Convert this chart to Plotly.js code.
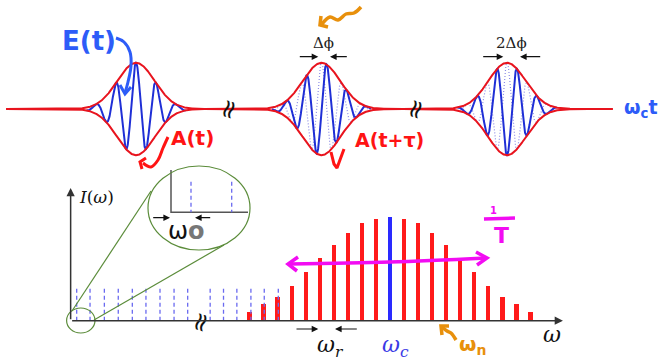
<!DOCTYPE html>
<html><head><meta charset="utf-8">
<script src="https://cdn.plot.ly/plotly-3.0.1.min.js"></script>
<style>html,body{margin:0;padding:0;background:#fff}#chart{width:660px;height:361px}</style>
</head><body><div id="chart"></div>
<script>
// ================= DATA =================
// Time domain: pulse train (display units: pulse period T = 1)
const pulseNumbers   = [0, 1, 2];
const pulsePhaseSlip = [0, 0.5, 1.0];   // carrier-envelope phase in units of pi: 0, Δφ, 2Δφ
const envelopeSigma  = 0.101;           // Gaussian envelope width (display units of T)
const carrierPeriod  = 0.108;           // display carrier period (units of T)
const timeSpan       = [-0.70, 2.57];

// Frequency domain: comb modes (index relative to ω_c) and intensities
const combModes     = [-10,-9,-8,-7,-6,-5,-4,-3,-2,-1,0,1,2,3,4,5,6,7,8,9,10];
const combIntensity = [0.087,0.159,0.226,0.338,0.474,0.603,0.732,0.851,0.948,0.981,1.0,
                       0.981,0.948,0.851,0.732,0.603,0.474,0.338,0.226,0.159,0.087];
// offset comb (dashed reference lines, display positions across the axis break)
const offsetModes = [-22.3,-21.35,-20.33,-19.34,-18.34,-17.37,-16.37,-15.37,-14.4,
                     -12.8,-11.85,-10.9,-9.9,-8.95,-7.95];
const offsetLevel = 0.313;
const axisStartMode = -22.73, axisEndMode = 12.31, axisTopI = 1.283;

// ================= GEOMETRY (layout mapping) =================
const W = 660, H = 361;
const t0px = 136, tUnitPx = 185.5, ampBasePx = 109, ampUnitPx = 46.2;
const n0px = 390, nUnitPx = 14.05, iBasePx = 320.7, iUnitPx = 103.4;
const yTopRange = [-1.35, 1.35];
const yTopDom = [1 - (ampBasePx - yTopRange[0]*ampUnitPx)/H, 1 - (ampBasePx - yTopRange[1]*ampUnitPx)/H];
const y2Dom = [0, 0.6];
const y2Range = [-(H - iBasePx)/iUnitPx, (iBasePx - H*(1 - y2Dom[1]))/iUnitPx];

// ================= TRACES =================
const traces = [];
const sig2 = 2*envelopeSigma*envelopeSigma;
function env(t, k){ return Math.exp(-(t-k)*(t-k)/sig2); }

// dotted reference carriers (unshifted) and blue shifted carriers
pulseNumbers.forEach((k, idx) => {
  const ph = pulsePhaseSlip[idx]*Math.PI;
  const tx = [], ty = [], rx = [], ry = [];
  for (let i = 0; i <= 800; i++) {
    const t = k - 0.4 + 0.8*i/800;
    const e = env(t, k);
    if (e < 0.03) continue;
    tx.push(t); ty.push(e*Math.cos(2*Math.PI*(t-k)/carrierPeriod - ph));
    rx.push(t); ry.push(e*Math.cos(2*Math.PI*(t-k)/carrierPeriod));
  }
  if (ph !== 0) traces.push({x: rx, y: ry, mode:'lines', line:{color:'#8c8ce6', width:1.2, dash:'1px,2px'},
    hoverinfo:'skip', showlegend:false});
  traces.push({x: tx, y: ty, mode:'lines', line:{color:'#1f2fd6', width:2}, hoverinfo:'skip', showlegend:false});
});

// envelope A(t)
{
  const ex = [], up = [], dn = [];
  const N = 3000;
  for (let i = 0; i <= N; i++) {
    const t = timeSpan[0] + (timeSpan[1]-timeSpan[0])*i/N;
    let e = 0; pulseNumbers.forEach(k => e += env(t, k));
    ex.push(t); up.push(e); dn.push(-e);
  }
  traces.push({x: ex, y: up, mode:'lines', line:{color:'#e8141e', width:2}, hoverinfo:'skip', showlegend:false});
  traces.push({x: ex, y: dn, mode:'lines', line:{color:'#e8141e', width:2}, hoverinfo:'skip', showlegend:false});
}

// dashed offset comb lines
{
  const dx = [], dy = [];
  offsetModes.forEach(n => { dx.push(n, n, null); dy.push(0, offsetLevel, null); });
  traces.push({x: dx, y: dy, xaxis:'x2', yaxis:'y2', mode:'lines',
    line:{color:'#6a6af0', width:1.3, dash:'4px,3px'}, hoverinfo:'skip', showlegend:false});
}
// comb bars
traces.push({type:'bar', x: combModes, y: combIntensity, xaxis:'x2', yaxis:'y2', width:0.3,
  marker:{color: combModes.map(n => n === 0 ? '#2a2aff' : '#ff1a1a'), line:{width:0}},
  hoverinfo:'skip', showlegend:false});

// ================= HAND-DRAWN STROKES (pixel overlay) =================
function stroke(xs, ys, color, width, shape){
  traces.push({x: xs, y: ys, xaxis:'x3', yaxis:'y3', mode:'lines',
    line:{color: color, width: width, shape: shape || 'spline'}, hoverinfo:'skip', showlegend:false});
}
const HB = '#2d5cf8', HR = '#ff1414', HO = '#e8900c', HM = '#f20cf2';
// E(t) pointer
stroke([116,124,130,131,128,125],[38,42,52,66,82,93], HB, 3);
stroke([120,125,131],[85,94,87], HB, 3, 'linear');
// A(t) pointer
stroke([168,163,158,151,143],[137,148,160,167,163], HR, 3);
stroke([146,140,142],[158,162,169], HR, 3, 'linear');
// A(t+τ) tick
stroke([331,334,337,344],[152,164,168,149], HR, 3, 'linear');
// orange squiggle top
stroke([322,330,338,346,354,361],[24,17,20,14,13,7], HO, 3.5);
stroke([321,320,328],[16,25,27], HO, 3.5, 'linear');
// orange ω_n pointer
stroke([456,451,447,442],[340,333,331,327], HO, 3.5);
stroke([442,441,449],[335,326,326], HO, 3.5, 'linear');
// magenta double arrow
stroke([289,390,486],[264,262,258], HM, 3.5);
stroke([298,288,297],[257,264,271], HM, 3.5, 'linear');
stroke([476,487,477],[252,258,265], HM, 3.5, 'linear');
// 1/T fraction bar
stroke([484,515],[219,218], HM, 3.5, 'linear');
// zoom inset connectors
stroke([72,151],[311,191], '#5b8c3a', 1.2, 'linear');
stroke([94,224],[320,245], '#5b8c3a', 1.2, 'linear');
// inset axes + dashed lines
stroke([171,171,248],[170,212.3,212.3], '#555', 1.5, 'linear');
traces.push({x:[191,191,null,231.7,231.7], y:[181.7,212.3,null,181.7,212.3], xaxis:'x3', yaxis:'y3', mode:'lines',
  line:{color:'#6a6af0', width:1.3, dash:'4px,3px'}, hoverinfo:'skip', showlegend:false});

// ================= ANNOTATIONS =================
const ann = [];
function txt(x, y, text, size, color, family, extra){
  ann.push(Object.assign({xref:'x3', yref:'y3', x:x, y:y, text:text, showarrow:false,
    font:{size:size, color:color, family:family}}, extra||{}));
}
function arr(x, y, ax, ay, color, w, ref){
  ref = ref || '3';
  ann.push({xref:'x'+ref, yref:'y'+ref, axref:'x'+ref, ayref:'y'+ref, x:x, y:y, ax:ax, ay:ay, text:'',
    showarrow:true, arrowhead:2, arrowsize:1.1, arrowwidth:w||1.2, arrowcolor:color||'#111', standoff:0});
}
const SANS = 'DejaVu Sans', SERIF = 'DejaVu Serif';
txt(89, 41, '<b>E(t)</b>', 26, HB, SANS);
txt(192, 138, '<b>A(t)</b>', 20, HR, SANS);
txt(389, 140, '<b>A(t+τ)</b>', 19, HR, SANS);
txt(622, 108, '<b>ω<sub>c</sub>t</b>', 19, HB, SANS, {xanchor:'left'});
txt(323, 43, 'Δϕ', 15, '#222', SERIF);
txt(511.5, 43, '2Δϕ', 15, '#222', SERIF);
txt(96, 197, '<i>I</i>(<i>ω</i>)', 17, '#111', SERIF);
txt(552, 334, '<i>ω</i>', 22, '#111', SERIF);
txt(330, 346, '<i>ω<sub>r</sub></i>', 22, '#111', SERIF);
txt(395, 346, '<i>ω<sub>c</sub></i>', 22, '#3a3ae6', SERIF);
txt(472, 345, '<b>ω<sub>n</sub></b>', 20, HO, SANS);
txt(186, 231, 'ω<span style="color:#777"><b>o</b></span>', 24, '#111', SANS);
txt(493.5, 210, '<b>1</b>', 10, HM, SANS);
txt(501, 235, '<b>T</b>', 22, HM, SANS);
[[228,109],[415,109],[200,322]].forEach(p => txt(p[0], p[1], '≈', 26, '#111', SANS, {textangle:-72}));
// Δφ arrows
arr(318.3, 56.7, 298.3, 56.7); arr(330, 56.7, 348.3, 56.7);
arr(503.3, 56.7, 481.7, 56.7); arr(520, 56.7, 541.7, 56.7);
// inset ω0 arrows
arr(170, 217.7, 151.7, 217.7); arr(195, 217.7, 211.7, 217.7);
// ω_r arrows
arr(318.3, 329, 295, 329); arr(335, 329, 358.3, 329);
// spectrum axes
arr(axisEndMode, 0, axisStartMode, 0, '#333', 1.5, '2');
arr(axisStartMode, axisTopI, axisStartMode, 0, '#333', 1.5, '2');

// ================= SHAPES =================
const shapes = [
  {type:'circle', xref:'x3', yref:'y3', x0:148, x1:250, y0:166, y1:250, line:{color:'#5b8c3a', width:1.2}},
  {type:'circle', xref:'x3', yref:'y3', x0:66.6, x1:95, y0:308, y1:333, line:{color:'#5b8c3a', width:1.2}}
];

const hidden = {visible:false, fixedrange:true, autorange:false};
const layout = {
  width: W, height: H, margin:{l:0, r:0, t:0, b:0},
  paper_bgcolor:'#ffffff', plot_bgcolor:'rgba(0,0,0,0)', showlegend:false,
  xaxis: Object.assign({}, hidden, {domain:[0,1], range:[(0-t0px)/tUnitPx, (W-t0px)/tUnitPx], anchor:'y'}),
  yaxis: Object.assign({}, hidden, {domain:yTopDom, range:yTopRange, anchor:'x'}),
  xaxis2: Object.assign({}, hidden, {domain:[0,1], range:[(0-n0px)/nUnitPx, (W-n0px)/nUnitPx], anchor:'y2'}),
  yaxis2: Object.assign({}, hidden, {domain:y2Dom, range:y2Range, anchor:'x2'}),
  xaxis3: Object.assign({}, hidden, {domain:[0,1], range:[0, W], anchor:'y3'}),
  yaxis3: Object.assign({}, hidden, {domain:[0,1], range:[H, 0], anchor:'x3'}),
  annotations: ann, shapes: shapes, bargap:0
};
Plotly.newPlot('chart', traces, layout, {staticPlot:true, displayModeBar:false});
</script></body></html>
